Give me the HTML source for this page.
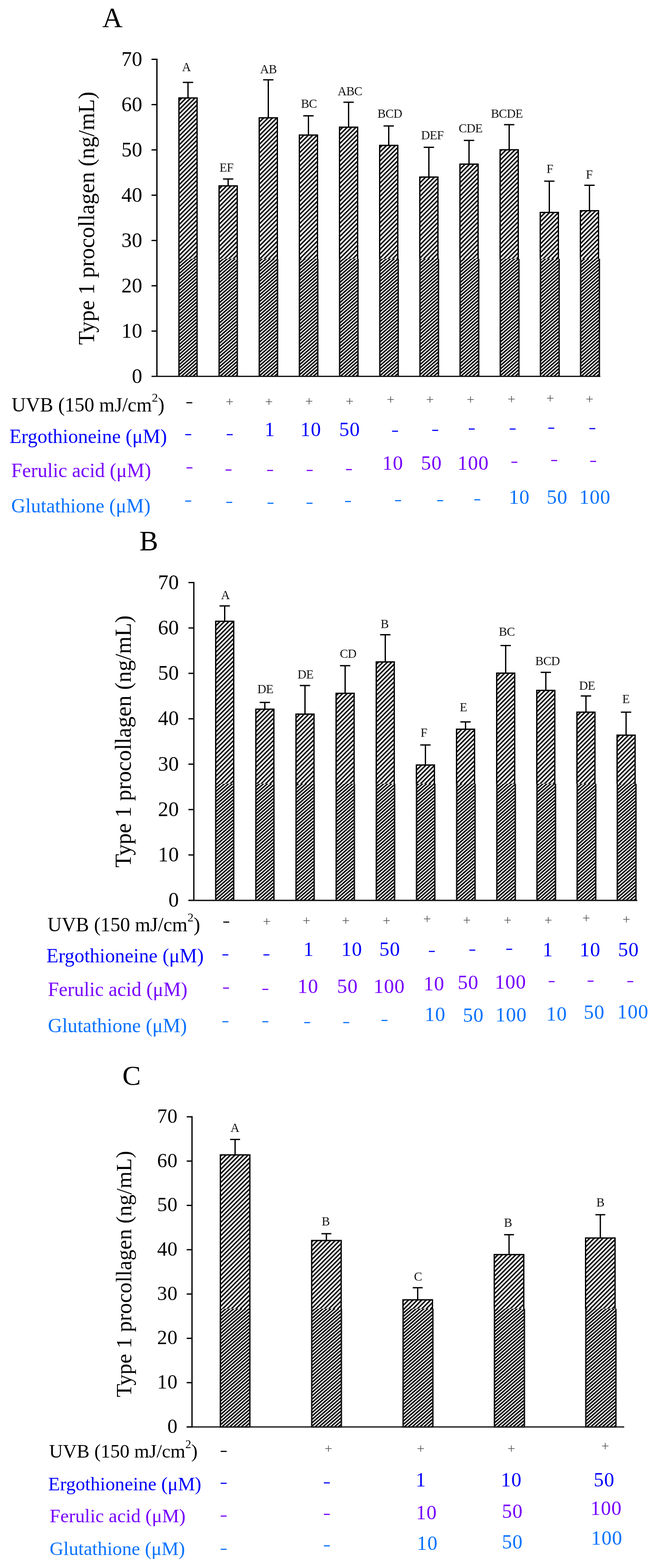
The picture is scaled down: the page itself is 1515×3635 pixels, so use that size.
<!DOCTYPE html>
<html><head><meta charset="utf-8"><title>Type 1 procollagen</title>
<style>html,body{margin:0;padding:0;background:#fff;}svg{display:block;}text{font-family:'Liberation Serif', 'Times New Roman', serif;}</style>
</head><body>
<svg width="1515" height="3635" viewBox="0 0 1515 3635">
<rect width="1515" height="3635" fill="#fff"/>
<defs>
<pattern id="hatch" patternUnits="userSpaceOnUse" width="7.25" height="20" patternTransform="rotate(45)">
<rect x="0" y="0" width="7.25" height="20" fill="#fff"/><rect x="0" y="0" width="3.3" height="20" fill="#000"/></pattern>
<filter id="blur" x="-0.05" y="-0.05" width="1.1" height="1.1"><feGaussianBlur stdDeviation="0.5"/></filter>
<pattern id="hatch2" patternUnits="userSpaceOnUse" width="5.9" height="20" patternTransform="rotate(49)">
<rect x="0" y="0" width="5.9" height="20" fill="#fff"/><rect x="0" y="0" width="3.3" height="20" fill="#000"/></pattern>
</defs>
<text x="237.0" y="62.8" font-size="65" fill="#000" text-anchor="start">A</text>
<text x="0" y="0" font-size="52" text-anchor="middle" transform="translate(217.5,506) rotate(-90)">Type 1 procollagen (ng/mL)</text>
<text x="329.8" y="887.5" font-size="48" fill="#000" text-anchor="end" letter-spacing="0.3">0</text>
<text x="329.8" y="782.5" font-size="48" fill="#000" text-anchor="end" letter-spacing="0.3">10</text>
<text x="329.8" y="677.5" font-size="48" fill="#000" text-anchor="end" letter-spacing="0.3">20</text>
<text x="329.8" y="572.5" font-size="48" fill="#000" text-anchor="end" letter-spacing="0.3">30</text>
<text x="329.8" y="467.5" font-size="48" fill="#000" text-anchor="end" letter-spacing="0.3">40</text>
<text x="329.8" y="362.5" font-size="48" fill="#000" text-anchor="end" letter-spacing="0.3">50</text>
<text x="329.8" y="257.5" font-size="48" fill="#000" text-anchor="end" letter-spacing="0.3">60</text>
<text x="329.8" y="152.5" font-size="48" fill="#000" text-anchor="end" letter-spacing="0.3">70</text>
<line x1="435.5" y1="191.0" x2="435.5" y2="227.6" stroke="#000" stroke-width="3"/>
<line x1="423.5" y1="191.0" x2="447.5" y2="191.0" stroke="#000" stroke-width="3"/>
<rect x="414.5" y="227.1" width="42.0" height="645.4" fill="url(#hatch)" stroke="#000" stroke-width="3"/>
<text x="431.8" y="165.2" font-size="28.5" fill="#111" text-anchor="middle" letter-spacing="-0.6">A</text>
<line x1="528.5" y1="415.0" x2="528.5" y2="431.4" stroke="#000" stroke-width="3"/>
<line x1="516.5" y1="415.0" x2="540.5" y2="415.0" stroke="#000" stroke-width="3"/>
<rect x="507.5" y="430.9" width="42.0" height="441.6" fill="url(#hatch)" stroke="#000" stroke-width="3"/>
<text x="524.6" y="398.2" font-size="28.5" fill="#111" text-anchor="middle" letter-spacing="-0.6">EF</text>
<line x1="621.5" y1="185.0" x2="621.5" y2="273.6" stroke="#000" stroke-width="3"/>
<line x1="609.5" y1="185.0" x2="633.5" y2="185.0" stroke="#000" stroke-width="3"/>
<rect x="600.5" y="273.1" width="42.0" height="599.4" fill="url(#hatch)" stroke="#000" stroke-width="3"/>
<text x="621.8" y="170.2" font-size="28.5" fill="#111" text-anchor="middle" letter-spacing="-0.6">AB</text>
<line x1="714.5" y1="268.5" x2="714.5" y2="313.6" stroke="#000" stroke-width="3"/>
<line x1="702.5" y1="268.5" x2="726.5" y2="268.5" stroke="#000" stroke-width="3"/>
<rect x="693.5" y="313.1" width="42.0" height="559.4" fill="url(#hatch)" stroke="#000" stroke-width="3"/>
<text x="715.6" y="250.2" font-size="28.5" fill="#111" text-anchor="middle" letter-spacing="-0.6">BC</text>
<line x1="807.5" y1="237.0" x2="807.5" y2="295.4" stroke="#000" stroke-width="3"/>
<line x1="795.5" y1="237.0" x2="819.5" y2="237.0" stroke="#000" stroke-width="3"/>
<rect x="786.5" y="294.9" width="42.0" height="577.6" fill="url(#hatch)" stroke="#000" stroke-width="3"/>
<text x="810.6" y="220.9" font-size="28.5" fill="#111" text-anchor="middle" letter-spacing="-0.6">ABC</text>
<line x1="900.5" y1="292.0" x2="900.5" y2="337.6" stroke="#000" stroke-width="3"/>
<line x1="888.5" y1="292.0" x2="912.5" y2="292.0" stroke="#000" stroke-width="3"/>
<rect x="879.5" y="337.1" width="42.0" height="535.4" fill="url(#hatch)" stroke="#000" stroke-width="3"/>
<text x="903.0" y="272.8" font-size="28.5" fill="#111" text-anchor="middle" letter-spacing="-0.6">BCD</text>
<line x1="993.5" y1="341.5" x2="993.5" y2="411.0" stroke="#000" stroke-width="3"/>
<line x1="981.5" y1="341.5" x2="1005.5" y2="341.5" stroke="#000" stroke-width="3"/>
<rect x="972.5" y="410.5" width="42.0" height="462.0" fill="url(#hatch)" stroke="#000" stroke-width="3"/>
<text x="1001.5" y="323.2" font-size="28.5" fill="#111" text-anchor="middle" letter-spacing="-0.6">DEF</text>
<line x1="1086.5" y1="325.5" x2="1086.5" y2="381.0" stroke="#000" stroke-width="3"/>
<line x1="1074.5" y1="325.5" x2="1098.5" y2="325.5" stroke="#000" stroke-width="3"/>
<rect x="1065.5" y="380.5" width="42.0" height="492.0" fill="url(#hatch)" stroke="#000" stroke-width="3"/>
<text x="1090.0" y="307.2" font-size="28.5" fill="#111" text-anchor="middle" letter-spacing="-0.6">CDE</text>
<line x1="1179.5" y1="289.0" x2="1179.5" y2="347.7" stroke="#000" stroke-width="3"/>
<line x1="1167.5" y1="289.0" x2="1191.5" y2="289.0" stroke="#000" stroke-width="3"/>
<rect x="1158.5" y="347.2" width="42.0" height="525.3" fill="url(#hatch)" stroke="#000" stroke-width="3"/>
<text x="1174.0" y="272.8" font-size="28.5" fill="#111" text-anchor="middle" letter-spacing="-0.6">BCDE</text>
<line x1="1272.5" y1="420.0" x2="1272.5" y2="493.0" stroke="#000" stroke-width="3"/>
<line x1="1260.5" y1="420.0" x2="1284.5" y2="420.0" stroke="#000" stroke-width="3"/>
<rect x="1251.5" y="492.5" width="42.0" height="380.0" fill="url(#hatch)" stroke="#000" stroke-width="3"/>
<text x="1273.6" y="401.2" font-size="28.5" fill="#111" text-anchor="middle" letter-spacing="-0.6">F</text>
<line x1="1365.5" y1="429.5" x2="1365.5" y2="489.0" stroke="#000" stroke-width="3"/>
<line x1="1353.5" y1="429.5" x2="1377.5" y2="429.5" stroke="#000" stroke-width="3"/>
<rect x="1344.5" y="488.5" width="42.0" height="384.0" fill="url(#hatch)" stroke="#000" stroke-width="3"/>
<text x="1365.0" y="414.2" font-size="28.5" fill="#111" text-anchor="middle" letter-spacing="-0.6">F</text>
<rect x="412.5" y="600.0" width="46.0" height="272.5" fill="#fff"/>
<rect x="505.5" y="600.0" width="46.2" height="272.5" fill="#fff"/>
<rect x="598.5" y="600.0" width="46.4" height="272.5" fill="#fff"/>
<rect x="691.5" y="600.0" width="46.6" height="272.5" fill="#fff"/>
<rect x="784.5" y="600.0" width="46.8" height="272.5" fill="#fff"/>
<rect x="877.5" y="600.0" width="47.0" height="272.5" fill="#fff"/>
<rect x="970.5" y="600.0" width="47.2" height="272.5" fill="#fff"/>
<rect x="1063.5" y="600.0" width="47.4" height="272.5" fill="#fff"/>
<rect x="1156.5" y="600.0" width="47.6" height="272.5" fill="#fff"/>
<rect x="1249.5" y="600.0" width="47.8" height="272.5" fill="#fff"/>
<rect x="1342.5" y="600.0" width="48.0" height="272.5" fill="#fff"/>
<clipPath id="lowA"><rect x="414.5" y="600.0" width="42.0" height="272.5"/><rect x="507.6" y="600.0" width="42.1" height="272.5"/><rect x="600.6" y="600.0" width="42.3" height="272.5"/><rect x="693.6" y="600.0" width="42.5" height="272.5"/><rect x="786.7" y="600.0" width="42.6" height="272.5"/><rect x="879.8" y="600.0" width="42.8" height="272.5"/><rect x="972.8" y="600.0" width="42.9" height="272.5"/><rect x="1065.8" y="600.0" width="43.0" height="272.5"/><rect x="1158.9" y="600.0" width="43.2" height="272.5"/><rect x="1252.0" y="600.0" width="43.4" height="272.5"/><rect x="1345.0" y="600.0" width="43.5" height="272.5"/></clipPath>
<g clip-path="url(#lowA)"><rect x="403.0" y="590.0" width="995.0" height="292.5" fill="url(#hatch2)" filter="url(#blur)"/></g>
<line x1="414.5" y1="600.0" x2="414.5" y2="872.5" stroke="#151515" stroke-width="3.3"/>
<line x1="456.5" y1="600.0" x2="456.5" y2="872.5" stroke="#151515" stroke-width="3.3"/>
<line x1="507.6" y1="600.0" x2="507.6" y2="872.5" stroke="#151515" stroke-width="3.3"/>
<line x1="549.7" y1="600.0" x2="549.7" y2="872.5" stroke="#151515" stroke-width="3.3"/>
<line x1="600.6" y1="600.0" x2="600.6" y2="872.5" stroke="#151515" stroke-width="3.3"/>
<line x1="642.9" y1="600.0" x2="642.9" y2="872.5" stroke="#151515" stroke-width="3.3"/>
<line x1="693.6" y1="600.0" x2="693.6" y2="872.5" stroke="#151515" stroke-width="3.3"/>
<line x1="736.1" y1="600.0" x2="736.1" y2="872.5" stroke="#151515" stroke-width="3.3"/>
<line x1="786.7" y1="600.0" x2="786.7" y2="872.5" stroke="#151515" stroke-width="3.3"/>
<line x1="829.3" y1="600.0" x2="829.3" y2="872.5" stroke="#151515" stroke-width="3.3"/>
<line x1="879.8" y1="600.0" x2="879.8" y2="872.5" stroke="#151515" stroke-width="3.3"/>
<line x1="922.5" y1="600.0" x2="922.5" y2="872.5" stroke="#151515" stroke-width="3.3"/>
<line x1="972.8" y1="600.0" x2="972.8" y2="872.5" stroke="#151515" stroke-width="3.3"/>
<line x1="1015.7" y1="600.0" x2="1015.7" y2="872.5" stroke="#151515" stroke-width="3.3"/>
<line x1="1065.8" y1="600.0" x2="1065.8" y2="872.5" stroke="#151515" stroke-width="3.3"/>
<line x1="1108.9" y1="600.0" x2="1108.9" y2="872.5" stroke="#151515" stroke-width="3.3"/>
<line x1="1158.9" y1="600.0" x2="1158.9" y2="872.5" stroke="#151515" stroke-width="3.3"/>
<line x1="1202.1" y1="600.0" x2="1202.1" y2="872.5" stroke="#151515" stroke-width="3.3"/>
<line x1="1252.0" y1="600.0" x2="1252.0" y2="872.5" stroke="#151515" stroke-width="3.3"/>
<line x1="1295.3" y1="600.0" x2="1295.3" y2="872.5" stroke="#151515" stroke-width="3.3"/>
<line x1="1345.0" y1="600.0" x2="1345.0" y2="872.5" stroke="#151515" stroke-width="3.3"/>
<line x1="1388.5" y1="600.0" x2="1388.5" y2="872.5" stroke="#151515" stroke-width="3.3"/>
<line x1="363.5" y1="136.0" x2="363.5" y2="874.0" stroke="#000" stroke-width="3"/>
<line x1="351.0" y1="872.5" x2="363.5" y2="872.5" stroke="#000" stroke-width="3"/>
<line x1="351.0" y1="767.5" x2="363.5" y2="767.5" stroke="#000" stroke-width="3"/>
<line x1="351.0" y1="662.5" x2="363.5" y2="662.5" stroke="#000" stroke-width="3"/>
<line x1="351.0" y1="557.5" x2="363.5" y2="557.5" stroke="#000" stroke-width="3"/>
<line x1="351.0" y1="452.5" x2="363.5" y2="452.5" stroke="#000" stroke-width="3"/>
<line x1="351.0" y1="347.5" x2="363.5" y2="347.5" stroke="#000" stroke-width="3"/>
<line x1="351.0" y1="242.5" x2="363.5" y2="242.5" stroke="#000" stroke-width="3"/>
<line x1="351.0" y1="137.5" x2="363.5" y2="137.5" stroke="#000" stroke-width="3"/>
<line x1="351.0" y1="872.5" x2="1390.6" y2="872.5" stroke="#1a1a1a" stroke-width="3.2"/>
<text x="26.8" y="954.2" font-size="45.7" fill="#000" text-anchor="start">UVB (150 mJ/cm<tspan font-size="28.3" dy="-22.9">2</tspan><tspan dy="22.9">)</tspan></text>
<text x="21.7" y="1027.2" font-size="45.7" fill="#0000ff" text-anchor="start">Ergothioneine (μM)</text>
<text x="26.0" y="1105.8" font-size="45.7" fill="#7700ff" text-anchor="start">Ferulic acid (μM)</text>
<text x="26.0" y="1188.0" font-size="45.7" fill="#0872ff" text-anchor="start">Glutathione (μM)</text>
<text x="0" y="0" font-size="50" fill="#000" text-anchor="middle" transform="translate(438.5,942.0) scale(1.06,0.72)">-</text>
<text x="532.0" y="942.1" font-size="32" fill="#555" text-anchor="middle">+</text>
<text x="623.0" y="942.1" font-size="32" fill="#555" text-anchor="middle">+</text>
<text x="716.0" y="941.1" font-size="32" fill="#555" text-anchor="middle">+</text>
<text x="810.0" y="940.6" font-size="32" fill="#555" text-anchor="middle">+</text>
<text x="905.0" y="936.6" font-size="32" fill="#555" text-anchor="middle">+</text>
<text x="996.0" y="936.6" font-size="32" fill="#555" text-anchor="middle">+</text>
<text x="1090.0" y="936.6" font-size="32" fill="#555" text-anchor="middle">+</text>
<text x="1185.0" y="936.2" font-size="32" fill="#555" text-anchor="middle">+</text>
<text x="1274.6" y="933.6" font-size="32" fill="#555" text-anchor="middle">+</text>
<text x="1365.7" y="936.2" font-size="32" fill="#555" text-anchor="middle">+</text>
<text x="0" y="0" font-size="50" fill="#0000ff" text-anchor="middle" transform="translate(436.0,1015.8) scale(1.06,0.72)">-</text>
<text x="0" y="0" font-size="50" fill="#0000ff" text-anchor="middle" transform="translate(532.0,1015.8) scale(1.06,0.72)">-</text>
<text x="625.0" y="1011.1" font-size="46.5" fill="#0000ff" text-anchor="middle" letter-spacing="1">1</text>
<text x="720.0" y="1011.1" font-size="46.5" fill="#0000ff" text-anchor="middle" letter-spacing="1">10</text>
<text x="810.0" y="1011.1" font-size="46.5" fill="#0000ff" text-anchor="middle" letter-spacing="1">50</text>
<text x="0" y="0" font-size="50" fill="#0000ff" text-anchor="middle" transform="translate(915.0,1007.8) scale(1.06,0.72)">-</text>
<text x="0" y="0" font-size="50" fill="#0000ff" text-anchor="middle" transform="translate(1008.0,1005.6) scale(1.06,0.72)">-</text>
<text x="0" y="0" font-size="50" fill="#0000ff" text-anchor="middle" transform="translate(1092.8,1003.0) scale(1.06,0.72)">-</text>
<text x="0" y="0" font-size="50" fill="#0000ff" text-anchor="middle" transform="translate(1187.5,1003.0) scale(1.06,0.72)">-</text>
<text x="0" y="0" font-size="50" fill="#0000ff" text-anchor="middle" transform="translate(1277.0,1000.5) scale(1.06,0.72)">-</text>
<text x="0" y="0" font-size="50" fill="#0000ff" text-anchor="middle" transform="translate(1372.0,1001.5) scale(1.06,0.72)">-</text>
<text x="0" y="0" font-size="50" fill="#7700ff" text-anchor="middle" transform="translate(438.8,1093.3) scale(1.06,0.72)">-</text>
<text x="0" y="0" font-size="50" fill="#7700ff" text-anchor="middle" transform="translate(529.4,1097.8) scale(1.06,0.72)">-</text>
<text x="0" y="0" font-size="50" fill="#7700ff" text-anchor="middle" transform="translate(625.5,1098.8) scale(1.06,0.72)">-</text>
<text x="0" y="0" font-size="50" fill="#7700ff" text-anchor="middle" transform="translate(717.3,1098.8) scale(1.06,0.72)">-</text>
<text x="0" y="0" font-size="50" fill="#7700ff" text-anchor="middle" transform="translate(808.4,1096.8) scale(1.06,0.72)">-</text>
<text x="910.0" y="1089.0" font-size="46.5" fill="#7700ff" text-anchor="middle" letter-spacing="1">10</text>
<text x="999.5" y="1089.0" font-size="46.5" fill="#7700ff" text-anchor="middle" letter-spacing="1">50</text>
<text x="1096.0" y="1089.0" font-size="46.5" fill="#7700ff" text-anchor="middle" letter-spacing="1">100</text>
<text x="0" y="0" font-size="50" fill="#7700ff" text-anchor="middle" transform="translate(1191.6,1079.8) scale(1.06,0.72)">-</text>
<text x="0" y="0" font-size="50" fill="#7700ff" text-anchor="middle" transform="translate(1283.8,1076.3) scale(1.06,0.72)">-</text>
<text x="0" y="0" font-size="50" fill="#7700ff" text-anchor="middle" transform="translate(1374.0,1078.3) scale(1.06,0.72)">-</text>
<text x="0" y="0" font-size="50" fill="#0872ff" text-anchor="middle" transform="translate(436.0,1170.3) scale(1.06,0.72)">-</text>
<text x="0" y="0" font-size="50" fill="#0872ff" text-anchor="middle" transform="translate(531.0,1173.1) scale(1.06,0.72)">-</text>
<text x="0" y="0" font-size="50" fill="#0872ff" text-anchor="middle" transform="translate(626.5,1174.6) scale(1.06,0.72)">-</text>
<text x="0" y="0" font-size="50" fill="#0872ff" text-anchor="middle" transform="translate(717.0,1174.6) scale(1.06,0.72)">-</text>
<text x="0" y="0" font-size="50" fill="#0872ff" text-anchor="middle" transform="translate(806.0,1170.5) scale(1.06,0.72)">-</text>
<text x="0" y="0" font-size="50" fill="#0872ff" text-anchor="middle" transform="translate(922.0,1169.3) scale(1.06,0.72)">-</text>
<text x="0" y="0" font-size="50" fill="#0872ff" text-anchor="middle" transform="translate(1019.5,1169.3) scale(1.06,0.72)">-</text>
<text x="0" y="0" font-size="50" fill="#0872ff" text-anchor="middle" transform="translate(1105.6,1166.9) scale(1.06,0.72)">-</text>
<text x="1203.0" y="1168.4" font-size="46.5" fill="#0872ff" text-anchor="middle" letter-spacing="1">10</text>
<text x="1290.7" y="1168.4" font-size="46.5" fill="#0872ff" text-anchor="middle" letter-spacing="1">50</text>
<text x="1378.0" y="1168.4" font-size="46.5" fill="#0872ff" text-anchor="middle" letter-spacing="1">100</text>
<text x="323.0" y="1275.8" font-size="65" fill="#000" text-anchor="start">B</text>
<text x="0" y="0" font-size="51.8" text-anchor="middle" transform="translate(302.7,1719) rotate(-90)">Type 1 procollagen (ng/mL)</text>
<text x="414.6" y="2102.3" font-size="48" fill="#000" text-anchor="end" letter-spacing="0.3">0</text>
<text x="414.6" y="1997.0" font-size="48" fill="#000" text-anchor="end" letter-spacing="0.3">10</text>
<text x="414.6" y="1891.8" font-size="48" fill="#000" text-anchor="end" letter-spacing="0.3">20</text>
<text x="414.6" y="1786.5" font-size="48" fill="#000" text-anchor="end" letter-spacing="0.3">30</text>
<text x="414.6" y="1681.3" font-size="48" fill="#000" text-anchor="end" letter-spacing="0.3">40</text>
<text x="414.6" y="1576.0" font-size="48" fill="#000" text-anchor="end" letter-spacing="0.3">50</text>
<text x="414.6" y="1470.8" font-size="48" fill="#000" text-anchor="end" letter-spacing="0.3">60</text>
<text x="414.6" y="1365.5" font-size="48" fill="#000" text-anchor="end" letter-spacing="0.3">70</text>
<line x1="520.5" y1="1404.7" x2="520.5" y2="1440.8" stroke="#000" stroke-width="3"/>
<line x1="508.5" y1="1404.7" x2="532.5" y2="1404.7" stroke="#000" stroke-width="3"/>
<rect x="499.7" y="1440.3" width="41.7" height="647.0" fill="url(#hatch)" stroke="#000" stroke-width="3"/>
<text x="522.0" y="1388.9" font-size="28.5" fill="#111" text-anchor="middle" letter-spacing="-0.6">A</text>
<line x1="613.5" y1="1628.4" x2="613.5" y2="1644.6" stroke="#000" stroke-width="3"/>
<line x1="601.5" y1="1628.4" x2="625.5" y2="1628.4" stroke="#000" stroke-width="3"/>
<rect x="592.7" y="1644.1" width="41.7" height="443.2" fill="url(#hatch)" stroke="#000" stroke-width="3"/>
<text x="614.6" y="1606.8" font-size="28.5" fill="#111" text-anchor="middle" letter-spacing="-0.6">DE</text>
<line x1="706.5" y1="1589.2" x2="706.5" y2="1656.0" stroke="#000" stroke-width="3"/>
<line x1="694.5" y1="1589.2" x2="718.5" y2="1589.2" stroke="#000" stroke-width="3"/>
<rect x="685.7" y="1655.5" width="41.7" height="431.8" fill="url(#hatch)" stroke="#000" stroke-width="3"/>
<text x="707.6" y="1572.9" font-size="28.5" fill="#111" text-anchor="middle" letter-spacing="-0.6">DE</text>
<line x1="799.5" y1="1543.2" x2="799.5" y2="1607.8" stroke="#000" stroke-width="3"/>
<line x1="787.5" y1="1543.2" x2="811.5" y2="1543.2" stroke="#000" stroke-width="3"/>
<rect x="778.6" y="1607.3" width="41.7" height="480.0" fill="url(#hatch)" stroke="#000" stroke-width="3"/>
<text x="806.4" y="1524.5" font-size="28.5" fill="#111" text-anchor="middle" letter-spacing="-0.6">CD</text>
<line x1="892.5" y1="1471.5" x2="892.5" y2="1535.0" stroke="#000" stroke-width="3"/>
<line x1="880.5" y1="1471.5" x2="904.5" y2="1471.5" stroke="#000" stroke-width="3"/>
<rect x="871.6" y="1534.5" width="41.7" height="552.8" fill="url(#hatch)" stroke="#000" stroke-width="3"/>
<text x="891.0" y="1455.7" font-size="28.5" fill="#111" text-anchor="middle" letter-spacing="-0.6">B</text>
<line x1="985.5" y1="1727.0" x2="985.5" y2="1774.0" stroke="#000" stroke-width="3"/>
<line x1="973.5" y1="1727.0" x2="997.5" y2="1727.0" stroke="#000" stroke-width="3"/>
<rect x="964.6" y="1773.5" width="41.7" height="313.8" fill="url(#hatch)" stroke="#000" stroke-width="3"/>
<text x="982.0" y="1708.2" font-size="28.5" fill="#111" text-anchor="middle" letter-spacing="-0.6">F</text>
<line x1="1078.4" y1="1673.6" x2="1078.4" y2="1691.0" stroke="#000" stroke-width="3"/>
<line x1="1066.4" y1="1673.6" x2="1090.4" y2="1673.6" stroke="#000" stroke-width="3"/>
<rect x="1057.6" y="1690.5" width="41.7" height="396.8" fill="url(#hatch)" stroke="#000" stroke-width="3"/>
<text x="1073.5" y="1648.7" font-size="28.5" fill="#111" text-anchor="middle" letter-spacing="-0.6">E</text>
<line x1="1171.4" y1="1496.5" x2="1171.4" y2="1561.0" stroke="#000" stroke-width="3"/>
<line x1="1159.4" y1="1496.5" x2="1183.4" y2="1496.5" stroke="#000" stroke-width="3"/>
<rect x="1150.6" y="1560.5" width="41.7" height="526.8" fill="url(#hatch)" stroke="#000" stroke-width="3"/>
<text x="1174.0" y="1473.5" font-size="28.5" fill="#111" text-anchor="middle" letter-spacing="-0.6">BC</text>
<line x1="1264.4" y1="1558.7" x2="1264.4" y2="1601.0" stroke="#000" stroke-width="3"/>
<line x1="1252.4" y1="1558.7" x2="1276.4" y2="1558.7" stroke="#000" stroke-width="3"/>
<rect x="1243.5" y="1600.5" width="41.7" height="486.8" fill="url(#hatch)" stroke="#000" stroke-width="3"/>
<text x="1268.4" y="1541.6" font-size="28.5" fill="#111" text-anchor="middle" letter-spacing="-0.6">BCD</text>
<line x1="1357.4" y1="1613.4" x2="1357.4" y2="1651.5" stroke="#000" stroke-width="3"/>
<line x1="1345.4" y1="1613.4" x2="1369.4" y2="1613.4" stroke="#000" stroke-width="3"/>
<rect x="1336.5" y="1651.0" width="41.7" height="436.3" fill="url(#hatch)" stroke="#000" stroke-width="3"/>
<text x="1360.0" y="1599.2" font-size="28.5" fill="#111" text-anchor="middle" letter-spacing="-0.6">DE</text>
<line x1="1450.3" y1="1651.0" x2="1450.3" y2="1704.8" stroke="#000" stroke-width="3"/>
<line x1="1438.3" y1="1651.0" x2="1462.3" y2="1651.0" stroke="#000" stroke-width="3"/>
<rect x="1429.5" y="1704.3" width="41.7" height="383.0" fill="url(#hatch)" stroke="#000" stroke-width="3"/>
<text x="1450.0" y="1630.2" font-size="28.5" fill="#111" text-anchor="middle" letter-spacing="-0.6">E</text>
<rect x="497.7" y="1817.0" width="45.7" height="270.3" fill="#fff"/>
<rect x="590.7" y="1817.0" width="45.9" height="270.3" fill="#fff"/>
<rect x="683.7" y="1817.0" width="46.1" height="270.3" fill="#fff"/>
<rect x="776.6" y="1817.0" width="46.3" height="270.3" fill="#fff"/>
<rect x="869.6" y="1817.0" width="46.5" height="270.3" fill="#fff"/>
<rect x="962.6" y="1817.0" width="46.7" height="270.3" fill="#fff"/>
<rect x="1055.6" y="1817.0" width="46.9" height="270.3" fill="#fff"/>
<rect x="1148.6" y="1817.0" width="47.1" height="270.3" fill="#fff"/>
<rect x="1241.5" y="1817.0" width="47.3" height="270.3" fill="#fff"/>
<rect x="1334.5" y="1817.0" width="47.5" height="270.3" fill="#fff"/>
<rect x="1427.5" y="1817.0" width="47.7" height="270.3" fill="#fff"/>
<clipPath id="lowB"><rect x="499.7" y="1817.0" width="41.7" height="270.3"/><rect x="592.7" y="1817.0" width="41.9" height="270.3"/><rect x="685.8" y="1817.0" width="42.0" height="270.3"/><rect x="778.8" y="1817.0" width="42.2" height="270.3"/><rect x="871.8" y="1817.0" width="42.3" height="270.3"/><rect x="964.9" y="1817.0" width="42.5" height="270.3"/><rect x="1057.9" y="1817.0" width="42.6" height="270.3"/><rect x="1150.9" y="1817.0" width="42.8" height="270.3"/><rect x="1243.9" y="1817.0" width="42.9" height="270.3"/><rect x="1337.0" y="1817.0" width="43.1" height="270.3"/><rect x="1430.0" y="1817.0" width="43.2" height="270.3"/></clipPath>
<g clip-path="url(#lowB)"><rect x="488.2" y="1807.0" width="994.5" height="290.3" fill="url(#hatch2)" filter="url(#blur)"/></g>
<line x1="499.7" y1="1817.0" x2="499.7" y2="2087.3" stroke="#151515" stroke-width="3.3"/>
<line x1="541.4" y1="1817.0" x2="541.4" y2="2087.3" stroke="#151515" stroke-width="3.3"/>
<line x1="592.7" y1="1817.0" x2="592.7" y2="2087.3" stroke="#151515" stroke-width="3.3"/>
<line x1="634.6" y1="1817.0" x2="634.6" y2="2087.3" stroke="#151515" stroke-width="3.3"/>
<line x1="685.8" y1="1817.0" x2="685.8" y2="2087.3" stroke="#151515" stroke-width="3.3"/>
<line x1="727.8" y1="1817.0" x2="727.8" y2="2087.3" stroke="#151515" stroke-width="3.3"/>
<line x1="778.8" y1="1817.0" x2="778.8" y2="2087.3" stroke="#151515" stroke-width="3.3"/>
<line x1="820.9" y1="1817.0" x2="820.9" y2="2087.3" stroke="#151515" stroke-width="3.3"/>
<line x1="871.8" y1="1817.0" x2="871.8" y2="2087.3" stroke="#151515" stroke-width="3.3"/>
<line x1="914.1" y1="1817.0" x2="914.1" y2="2087.3" stroke="#151515" stroke-width="3.3"/>
<line x1="964.9" y1="1817.0" x2="964.9" y2="2087.3" stroke="#151515" stroke-width="3.3"/>
<line x1="1007.3" y1="1817.0" x2="1007.3" y2="2087.3" stroke="#151515" stroke-width="3.3"/>
<line x1="1057.9" y1="1817.0" x2="1057.9" y2="2087.3" stroke="#151515" stroke-width="3.3"/>
<line x1="1100.5" y1="1817.0" x2="1100.5" y2="2087.3" stroke="#151515" stroke-width="3.3"/>
<line x1="1150.9" y1="1817.0" x2="1150.9" y2="2087.3" stroke="#151515" stroke-width="3.3"/>
<line x1="1193.7" y1="1817.0" x2="1193.7" y2="2087.3" stroke="#151515" stroke-width="3.3"/>
<line x1="1243.9" y1="1817.0" x2="1243.9" y2="2087.3" stroke="#151515" stroke-width="3.3"/>
<line x1="1286.8" y1="1817.0" x2="1286.8" y2="2087.3" stroke="#151515" stroke-width="3.3"/>
<line x1="1337.0" y1="1817.0" x2="1337.0" y2="2087.3" stroke="#151515" stroke-width="3.3"/>
<line x1="1380.0" y1="1817.0" x2="1380.0" y2="2087.3" stroke="#151515" stroke-width="3.3"/>
<line x1="1430.0" y1="1817.0" x2="1430.0" y2="2087.3" stroke="#151515" stroke-width="3.3"/>
<line x1="1473.2" y1="1817.0" x2="1473.2" y2="2087.3" stroke="#151515" stroke-width="3.3"/>
<line x1="449.0" y1="1349.0" x2="449.0" y2="2088.8" stroke="#000" stroke-width="3"/>
<line x1="436.5" y1="2087.3" x2="449.0" y2="2087.3" stroke="#000" stroke-width="3"/>
<line x1="436.5" y1="1982.0" x2="449.0" y2="1982.0" stroke="#000" stroke-width="3"/>
<line x1="436.5" y1="1876.8" x2="449.0" y2="1876.8" stroke="#000" stroke-width="3"/>
<line x1="436.5" y1="1771.5" x2="449.0" y2="1771.5" stroke="#000" stroke-width="3"/>
<line x1="436.5" y1="1666.3" x2="449.0" y2="1666.3" stroke="#000" stroke-width="3"/>
<line x1="436.5" y1="1561.0" x2="449.0" y2="1561.0" stroke="#000" stroke-width="3"/>
<line x1="436.5" y1="1455.8" x2="449.0" y2="1455.8" stroke="#000" stroke-width="3"/>
<line x1="436.5" y1="1350.5" x2="449.0" y2="1350.5" stroke="#000" stroke-width="3"/>
<line x1="436.5" y1="2087.3" x2="1476.3" y2="2087.3" stroke="#1a1a1a" stroke-width="3.2"/>
<text x="110.0" y="2159.0" font-size="45.6" fill="#000" text-anchor="start">UVB (150 mJ/cm<tspan font-size="28.3" dy="-22.8">2</tspan><tspan dy="22.8">)</tspan></text>
<text x="107.6" y="2231.0" font-size="45.6" fill="#0000ff" text-anchor="start">Ergothioneine (μM)</text>
<text x="111.0" y="2308.8" font-size="45.6" fill="#7700ff" text-anchor="start">Ferulic acid (μM)</text>
<text x="111.0" y="2392.6" font-size="45.6" fill="#0872ff" text-anchor="start">Glutathione (μM)</text>
<text x="0" y="0" font-size="50" fill="#000" text-anchor="middle" transform="translate(524.0,2146.1) scale(1.06,0.72)">-</text>
<text x="618.0" y="2146.6" font-size="32" fill="#555" text-anchor="middle">+</text>
<text x="710.0" y="2144.6" font-size="32" fill="#555" text-anchor="middle">+</text>
<text x="801.0" y="2144.6" font-size="32" fill="#555" text-anchor="middle">+</text>
<text x="895.5" y="2144.6" font-size="32" fill="#555" text-anchor="middle">+</text>
<text x="989.4" y="2140.6" font-size="32" fill="#555" text-anchor="middle">+</text>
<text x="1081.4" y="2144.2" font-size="32" fill="#555" text-anchor="middle">+</text>
<text x="1176.0" y="2144.2" font-size="32" fill="#555" text-anchor="middle">+</text>
<text x="1270.0" y="2144.2" font-size="32" fill="#555" text-anchor="middle">+</text>
<text x="1358.0" y="2139.0" font-size="32" fill="#555" text-anchor="middle">+</text>
<text x="1451.0" y="2141.6" font-size="32" fill="#555" text-anchor="middle">+</text>
<text x="0" y="0" font-size="50" fill="#0000ff" text-anchor="middle" transform="translate(522.0,2222.1) scale(1.06,0.72)">-</text>
<text x="0" y="0" font-size="50" fill="#0000ff" text-anchor="middle" transform="translate(617.0,2222.1) scale(1.06,0.72)">-</text>
<text x="715.0" y="2215.5" font-size="46.5" fill="#0000ff" text-anchor="middle" letter-spacing="1">1</text>
<text x="815.0" y="2215.5" font-size="46.5" fill="#0000ff" text-anchor="middle" letter-spacing="1">10</text>
<text x="903.0" y="2215.5" font-size="46.5" fill="#0000ff" text-anchor="middle" letter-spacing="1">50</text>
<text x="0" y="0" font-size="50" fill="#0000ff" text-anchor="middle" transform="translate(1000.3,2214.3) scale(1.06,0.72)">-</text>
<text x="0" y="0" font-size="50" fill="#0000ff" text-anchor="middle" transform="translate(1094.0,2211.3) scale(1.06,0.72)">-</text>
<text x="0" y="0" font-size="50" fill="#0000ff" text-anchor="middle" transform="translate(1179.6,2209.1) scale(1.06,0.72)">-</text>
<text x="1269.0" y="2217.3" font-size="46.5" fill="#0000ff" text-anchor="middle" letter-spacing="1">1</text>
<text x="1367.0" y="2217.3" font-size="46.5" fill="#0000ff" text-anchor="middle" letter-spacing="1">10</text>
<text x="1456.0" y="2217.3" font-size="46.5" fill="#0000ff" text-anchor="middle" letter-spacing="1">50</text>
<text x="0" y="0" font-size="50" fill="#7700ff" text-anchor="middle" transform="translate(523.6,2299.3) scale(1.06,0.72)">-</text>
<text x="0" y="0" font-size="50" fill="#7700ff" text-anchor="middle" transform="translate(614.6,2302.0) scale(1.06,0.72)">-</text>
<text x="713.5" y="2301.9" font-size="46.5" fill="#7700ff" text-anchor="middle" letter-spacing="1">10</text>
<text x="805.0" y="2301.9" font-size="46.5" fill="#7700ff" text-anchor="middle" letter-spacing="1">50</text>
<text x="901.5" y="2301.9" font-size="46.5" fill="#7700ff" text-anchor="middle" letter-spacing="1">100</text>
<text x="1005.5" y="2295.5" font-size="46.5" fill="#7700ff" text-anchor="middle" letter-spacing="1">10</text>
<text x="1084.6" y="2292.5" font-size="46.5" fill="#7700ff" text-anchor="middle" letter-spacing="1">50</text>
<text x="1182.6" y="2291.5" font-size="46.5" fill="#7700ff" text-anchor="middle" letter-spacing="1">100</text>
<text x="0" y="0" font-size="50" fill="#7700ff" text-anchor="middle" transform="translate(1277.8,2284.0) scale(1.06,0.72)">-</text>
<text x="0" y="0" font-size="50" fill="#7700ff" text-anchor="middle" transform="translate(1368.0,2283.0) scale(1.06,0.72)">-</text>
<text x="0" y="0" font-size="50" fill="#7700ff" text-anchor="middle" transform="translate(1460.0,2284.0) scale(1.06,0.72)">-</text>
<text x="0" y="0" font-size="50" fill="#0872ff" text-anchor="middle" transform="translate(522.0,2377.1) scale(1.06,0.72)">-</text>
<text x="0" y="0" font-size="50" fill="#0872ff" text-anchor="middle" transform="translate(614.6,2377.1) scale(1.06,0.72)">-</text>
<text x="0" y="0" font-size="50" fill="#0872ff" text-anchor="middle" transform="translate(711.5,2379.3) scale(1.06,0.72)">-</text>
<text x="0" y="0" font-size="50" fill="#0872ff" text-anchor="middle" transform="translate(802.0,2379.3) scale(1.06,0.72)">-</text>
<text x="0" y="0" font-size="50" fill="#0872ff" text-anchor="middle" transform="translate(890.6,2374.3) scale(1.06,0.72)">-</text>
<text x="1008.0" y="2367.2" font-size="46.5" fill="#0872ff" text-anchor="middle" letter-spacing="1">10</text>
<text x="1096.5" y="2369.3" font-size="46.5" fill="#0872ff" text-anchor="middle" letter-spacing="1">50</text>
<text x="1184.0" y="2367.5" font-size="46.5" fill="#0872ff" text-anchor="middle" letter-spacing="1">100</text>
<text x="1289.5" y="2365.5" font-size="46.5" fill="#0872ff" text-anchor="middle" letter-spacing="1">10</text>
<text x="1376.6" y="2362.0" font-size="46.5" fill="#0872ff" text-anchor="middle" letter-spacing="1">50</text>
<text x="1466.0" y="2360.5" font-size="46.5" fill="#0872ff" text-anchor="middle" letter-spacing="1">100</text>
<text x="283.5" y="2515.0" font-size="64" fill="#000" text-anchor="start">C</text>
<text x="0" y="0" font-size="50.6" text-anchor="middle" transform="translate(303.5,2953.5) rotate(-90)">Type 1 procollagen (ng/mL)</text>
<text x="411.2" y="3321.8" font-size="46.5" fill="#000" text-anchor="end" letter-spacing="0.3">0</text>
<text x="411.2" y="3219.1" font-size="46.5" fill="#000" text-anchor="end" letter-spacing="0.3">10</text>
<text x="411.2" y="3116.4" font-size="46.5" fill="#000" text-anchor="end" letter-spacing="0.3">20</text>
<text x="411.2" y="3013.7" font-size="46.5" fill="#000" text-anchor="end" letter-spacing="0.3">30</text>
<text x="411.2" y="2910.9" font-size="46.5" fill="#000" text-anchor="end" letter-spacing="0.3">40</text>
<text x="411.2" y="2808.2" font-size="46.5" fill="#000" text-anchor="end" letter-spacing="0.3">50</text>
<text x="411.2" y="2705.5" font-size="46.5" fill="#000" text-anchor="end" letter-spacing="0.3">60</text>
<text x="411.2" y="2602.8" font-size="46.5" fill="#000" text-anchor="end" letter-spacing="0.3">70</text>
<line x1="544.6" y1="2641.5" x2="544.6" y2="2677.8" stroke="#000" stroke-width="3"/>
<line x1="533.1" y1="2641.5" x2="556.1" y2="2641.5" stroke="#000" stroke-width="3"/>
<rect x="510.5" y="2677.3" width="68.3" height="630.7" fill="url(#hatch)" stroke="#000" stroke-width="3"/>
<text x="543.9" y="2624.2" font-size="28.5" fill="#111" text-anchor="middle" letter-spacing="-0.6">A</text>
<line x1="756.1" y1="2860.0" x2="756.1" y2="2876.3" stroke="#000" stroke-width="3"/>
<line x1="744.6" y1="2860.0" x2="767.6" y2="2860.0" stroke="#000" stroke-width="3"/>
<rect x="722.0" y="2875.8" width="68.3" height="432.2" fill="url(#hatch)" stroke="#000" stroke-width="3"/>
<text x="754.5" y="2840.9" font-size="28.5" fill="#111" text-anchor="middle" letter-spacing="-0.6">B</text>
<line x1="967.6" y1="2985.2" x2="967.6" y2="3013.8" stroke="#000" stroke-width="3"/>
<line x1="956.1" y1="2985.2" x2="979.1" y2="2985.2" stroke="#000" stroke-width="3"/>
<rect x="933.5" y="3013.3" width="68.3" height="294.7" fill="url(#hatch)" stroke="#000" stroke-width="3"/>
<text x="968.3" y="2968.7" font-size="28.5" fill="#111" text-anchor="middle" letter-spacing="-0.6">C</text>
<line x1="1179.2" y1="2862.3" x2="1179.2" y2="2908.9" stroke="#000" stroke-width="3"/>
<line x1="1167.7" y1="2862.3" x2="1190.7" y2="2862.3" stroke="#000" stroke-width="3"/>
<rect x="1145.0" y="2908.4" width="68.3" height="399.6" fill="url(#hatch)" stroke="#000" stroke-width="3"/>
<text x="1176.8" y="2843.7" font-size="28.5" fill="#111" text-anchor="middle" letter-spacing="-0.6">B</text>
<line x1="1390.7" y1="2816.0" x2="1390.7" y2="2870.5" stroke="#000" stroke-width="3"/>
<line x1="1379.2" y1="2816.0" x2="1402.2" y2="2816.0" stroke="#000" stroke-width="3"/>
<rect x="1356.5" y="2870.0" width="68.3" height="438.0" fill="url(#hatch)" stroke="#000" stroke-width="3"/>
<text x="1390.7" y="2796.7" font-size="28.5" fill="#111" text-anchor="middle" letter-spacing="-0.6">B</text>
<rect x="508.5" y="3034.0" width="72.3" height="274.0" fill="#fff"/>
<rect x="720.0" y="3034.0" width="72.8" height="274.0" fill="#fff"/>
<rect x="931.5" y="3034.0" width="73.3" height="274.0" fill="#fff"/>
<rect x="1143.0" y="3034.0" width="73.8" height="274.0" fill="#fff"/>
<rect x="1354.5" y="3034.0" width="74.3" height="274.0" fill="#fff"/>
<clipPath id="lowC"><rect x="510.5" y="3034.0" width="68.3" height="274.0"/><rect x="722.1" y="3034.0" width="68.7" height="274.0"/><rect x="933.8" y="3034.0" width="69.0" height="274.0"/><rect x="1145.4" y="3034.0" width="69.4" height="274.0"/><rect x="1357.0" y="3034.0" width="69.8" height="274.0"/></clipPath>
<g clip-path="url(#lowC)"><rect x="499.0" y="3024.0" width="937.3" height="294.0" fill="url(#hatch2)" filter="url(#blur)"/></g>
<line x1="510.5" y1="3034.0" x2="510.5" y2="3308.0" stroke="#151515" stroke-width="3.3"/>
<line x1="578.8" y1="3034.0" x2="578.8" y2="3308.0" stroke="#151515" stroke-width="3.3"/>
<line x1="722.1" y1="3034.0" x2="722.1" y2="3308.0" stroke="#151515" stroke-width="3.3"/>
<line x1="790.8" y1="3034.0" x2="790.8" y2="3308.0" stroke="#151515" stroke-width="3.3"/>
<line x1="933.8" y1="3034.0" x2="933.8" y2="3308.0" stroke="#151515" stroke-width="3.3"/>
<line x1="1002.8" y1="3034.0" x2="1002.8" y2="3308.0" stroke="#151515" stroke-width="3.3"/>
<line x1="1145.4" y1="3034.0" x2="1145.4" y2="3308.0" stroke="#151515" stroke-width="3.3"/>
<line x1="1214.8" y1="3034.0" x2="1214.8" y2="3308.0" stroke="#151515" stroke-width="3.3"/>
<line x1="1357.0" y1="3034.0" x2="1357.0" y2="3308.0" stroke="#151515" stroke-width="3.3"/>
<line x1="1426.8" y1="3034.0" x2="1426.8" y2="3308.0" stroke="#151515" stroke-width="3.3"/>
<line x1="444.8" y1="2587.5" x2="444.8" y2="3309.5" stroke="#000" stroke-width="3"/>
<line x1="432.5" y1="3308.0" x2="444.8" y2="3308.0" stroke="#000" stroke-width="3"/>
<line x1="432.5" y1="3205.3" x2="444.8" y2="3205.3" stroke="#000" stroke-width="3"/>
<line x1="432.5" y1="3102.6" x2="444.8" y2="3102.6" stroke="#000" stroke-width="3"/>
<line x1="432.5" y1="2999.9" x2="444.8" y2="2999.9" stroke="#000" stroke-width="3"/>
<line x1="432.5" y1="2897.1" x2="444.8" y2="2897.1" stroke="#000" stroke-width="3"/>
<line x1="432.5" y1="2794.4" x2="444.8" y2="2794.4" stroke="#000" stroke-width="3"/>
<line x1="432.5" y1="2691.7" x2="444.8" y2="2691.7" stroke="#000" stroke-width="3"/>
<line x1="432.5" y1="2589.0" x2="444.8" y2="2589.0" stroke="#000" stroke-width="3"/>
<line x1="432.5" y1="3308.0" x2="1446.0" y2="3308.0" stroke="#1a1a1a" stroke-width="3.2"/>
<text x="113.7" y="3379.4" font-size="44.4" fill="#000" text-anchor="start">UVB (150 mJ/cm<tspan font-size="27.5" dy="-22.2">2</tspan><tspan dy="22.2">)</tspan></text>
<text x="111.8" y="3455.3" font-size="44.4" fill="#0000ff" text-anchor="start">Ergothioneine (μM)</text>
<text x="115.0" y="3529.0" font-size="44.4" fill="#7700ff" text-anchor="start">Ferulic acid (μM)</text>
<text x="115.0" y="3605.0" font-size="44.4" fill="#0872ff" text-anchor="start">Glutathione (μM)</text>
<text x="0" y="0" font-size="50" fill="#000" text-anchor="middle" transform="translate(518.0,3373.3) scale(1.06,0.72)">-</text>
<text x="760.7" y="3368.6" font-size="32" fill="#555" text-anchor="middle">+</text>
<text x="974.5" y="3368.6" font-size="32" fill="#555" text-anchor="middle">+</text>
<text x="1184.4" y="3368.6" font-size="32" fill="#555" text-anchor="middle">+</text>
<text x="1402.0" y="3362.6" font-size="32" fill="#555" text-anchor="middle">+</text>
<text x="0" y="0" font-size="50" fill="#0000ff" text-anchor="middle" transform="translate(518.0,3447.0) scale(1.06,0.72)">-</text>
<text x="0" y="0" font-size="50" fill="#0000ff" text-anchor="middle" transform="translate(757.0,3446.3) scale(1.06,0.72)">-</text>
<text x="975.0" y="3445.5" font-size="46.5" fill="#0000ff" text-anchor="middle" letter-spacing="1">1</text>
<text x="1184.5" y="3445.5" font-size="46.5" fill="#0000ff" text-anchor="middle" letter-spacing="1">10</text>
<text x="1399.6" y="3445.5" font-size="46.5" fill="#0000ff" text-anchor="middle" letter-spacing="1">50</text>
<text x="0" y="0" font-size="50" fill="#7700ff" text-anchor="middle" transform="translate(518.0,3523.0) scale(1.06,0.72)">-</text>
<text x="0" y="0" font-size="50" fill="#7700ff" text-anchor="middle" transform="translate(757.0,3519.3) scale(1.06,0.72)">-</text>
<text x="988.0" y="3521.5" font-size="46.5" fill="#7700ff" text-anchor="middle" letter-spacing="1">10</text>
<text x="1187.0" y="3518.5" font-size="46.5" fill="#7700ff" text-anchor="middle" letter-spacing="1">50</text>
<text x="1404.0" y="3511.5" font-size="46.5" fill="#7700ff" text-anchor="middle" letter-spacing="1">100</text>
<text x="0" y="0" font-size="50" fill="#0872ff" text-anchor="middle" transform="translate(518.0,3599.9) scale(1.06,0.72)">-</text>
<text x="0" y="0" font-size="50" fill="#0872ff" text-anchor="middle" transform="translate(757.0,3591.7) scale(1.06,0.72)">-</text>
<text x="990.0" y="3592.8" font-size="46.5" fill="#0872ff" text-anchor="middle" letter-spacing="1">10</text>
<text x="1187.0" y="3589.5" font-size="46.5" fill="#0872ff" text-anchor="middle" letter-spacing="1">50</text>
<text x="1405.6" y="3580.5" font-size="46.5" fill="#0872ff" text-anchor="middle" letter-spacing="1">100</text>
</svg>
</body></html>
